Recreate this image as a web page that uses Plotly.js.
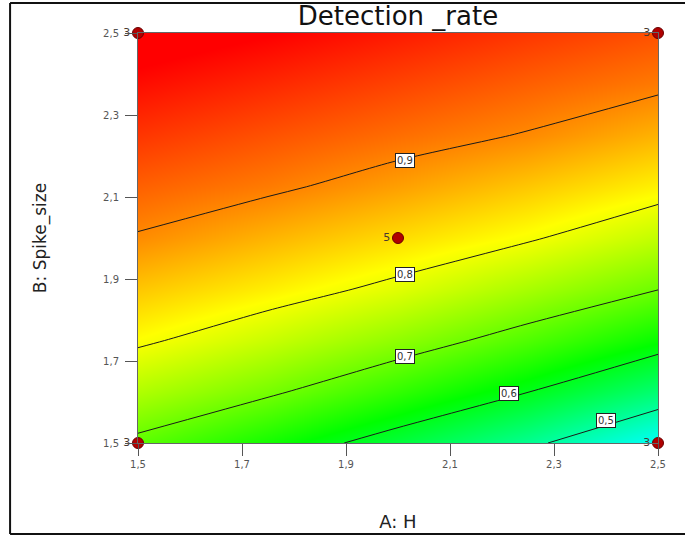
<!DOCTYPE html>
<html>
<head>
<meta charset="utf-8">
<script src="https://cdn.plot.ly/plotly-3.0.1.min.js"></script>
<style>html,body{margin:0;padding:0;background:#fff;}#chart{width:685px;height:537px;}</style>
</head>
<body>
<div id="chart"></div>
<script>
// Factor A: H (x), Factor B: Spike_size (y)
const A = [1.5, 1.75, 2.0, 2.25, 2.5];
const B = [1.5, 1.625, 1.75, 1.875, 2.0, 2.125, 2.25, 2.375, 2.5];
// Detection_rate; one row per B value, columns follow A
const rateB1500 = [0.688, 0.634, 0.576, 0.512, 0.434];
const rateB1625 = [0.751, 0.708, 0.656, 0.601, 0.535];
const rateB1750 = [0.808, 0.769, 0.726, 0.678, 0.624];
const rateB1875 = [0.852, 0.822, 0.788, 0.745, 0.701];
const rateB2000 = [0.896, 0.866, 0.836, 0.805, 0.764];
const rateB2125 = [0.928, 0.908, 0.881, 0.851, 0.819];
const rateB2250 = [0.960, 0.939, 0.918, 0.897, 0.866];
const rateB2375 = [0.991, 0.971, 0.950, 0.929, 0.909];
const rateB2500 = [1.020, 1.002, 0.981, 0.960, 0.940];
const rate = [rateB1500, rateB1625, rateB1750, rateB1875, rateB2000,
              rateB2125, rateB2250, rateB2375, rateB2500];

// Design points and replicate counts
const designA = [1.5, 1.5, 2.5, 2.5, 2.0];
const designB = [1.5, 2.5, 1.5, 2.5, 2.0];
const designCount = ['3', '3', '3', '3', '5'];

// Contour levels and where their boxed labels sit
const levels = [0.9, 0.8, 0.7, 0.6, 0.5];
const labelA = [2.013, 2.013, 2.013, 2.213, 2.400];
const labelB = [2.188, 1.912, 1.710, 1.620, 1.554];

const ticks = [1.5, 1.7, 1.9, 2.1, 2.3, 2.5];

const cs = [
  [0.0, '#0000ff'],
  [0.25, '#00ffff'],
  [0.5, '#00ff00'],
  [0.75, '#ffff00'],
  [1.0, '#ff0000']
];

const FONT = 'DejaVu Sans, Verdana, sans-serif';

const traces = [
  {
    type: 'heatmap', x: A, y: B, z: rate, zsmooth: 'best',
    colorscale: cs, zmin: 0.24, zmax: 1.0, showscale: false, hoverinfo: 'skip'
  },
  {
    type: 'contour', x: A, y: B, z: rate,
    contours: {start: 0.5, end: 0.9, size: 0.1, coloring: 'none', showlabels: false},
    line: {color: '#1a1a1a', width: 1, smoothing: 0.8},
    showscale: false, hoverinfo: 'skip'
  },
  {
    type: 'scatter', mode: 'markers+text', x: designA, y: designB,
    text: designCount, textposition: 'middle left',
    textfont: {family: FONT, size: 11, color: '#4a3a30'},
    marker: {size: 11, color: '#b00000', line: {color: '#6a0000', width: 1}},
    cliponaxis: false, hoverinfo: 'skip'
  }
];

const annotations = levels.map((lv, i) => ({
  x: labelA[i], y: labelB[i], xref: 'x', yref: 'y',
  text: lv.toFixed(1).replace('.', ','), showarrow: false,
  bgcolor: '#ffffff', bordercolor: '#222', borderwidth: 1, borderpad: 1,
  font: {family: FONT, size: 10, color: '#333'}
}));

const border = {color: '#111', width: 2};
const layout = {
  width: 685, height: 537,
  margin: {l: 138, r: 27, t: 33, b: 94},
  paper_bgcolor: '#ffffff', plot_bgcolor: '#ffffff',
  separators: ', ',
  font: {family: FONT, color: '#333'},
  title: {
    text: 'Detection _rate', x: 0.581, xanchor: 'center', y: 0.97, yanchor: 'middle',
    font: {family: FONT, size: 26, color: '#111'}
  },
  xaxis: {
    range: [1.5, 2.5], tickvals: ticks, tickformat: '.1f',
    ticks: 'outside', ticklen: 12, tickcolor: '#555', tickwidth: 1,
    showline: true, linecolor: '#666', linewidth: 1, mirror: true,
    showgrid: false, zeroline: false,
    tickfont: {family: FONT, size: 10, color: '#555'},
    title: {text: 'A: H', standoff: 46, font: {family: FONT, size: 18, color: '#222'}}
  },
  yaxis: {
    range: [1.5, 2.5], tickvals: ticks, tickformat: '.1f',
    ticks: 'outside', ticklen: 12, tickcolor: '#555', tickwidth: 1,
    ticklabelstandoff: 4,
    showline: true, linecolor: '#666', linewidth: 1, mirror: true,
    showgrid: false, zeroline: false,
    tickfont: {family: FONT, size: 10, color: '#555'},
    title: {text: 'B: Spike_size', standoff: 52, font: {family: FONT, size: 17, color: '#222'}}
  },
  annotations: annotations,
  shapes: [
    {type: 'line', xref: 'paper', yref: 'paper', x0: -0.246, x1: -0.246, y0: -0.222, y1: 1.073, line: border},
    {type: 'line', xref: 'paper', yref: 'paper', x0: -0.246, x1: 1.06, y0: 1.073, y1: 1.073, line: border},
    {type: 'line', xref: 'paper', yref: 'paper', x0: -0.246, x1: 1.06, y0: -0.222, y1: -0.222, line: border}
  ],
  showlegend: false
};

Plotly.newPlot('chart', traces, layout, {displayModeBar: false, staticPlot: true});
</script>
</body>
</html>
